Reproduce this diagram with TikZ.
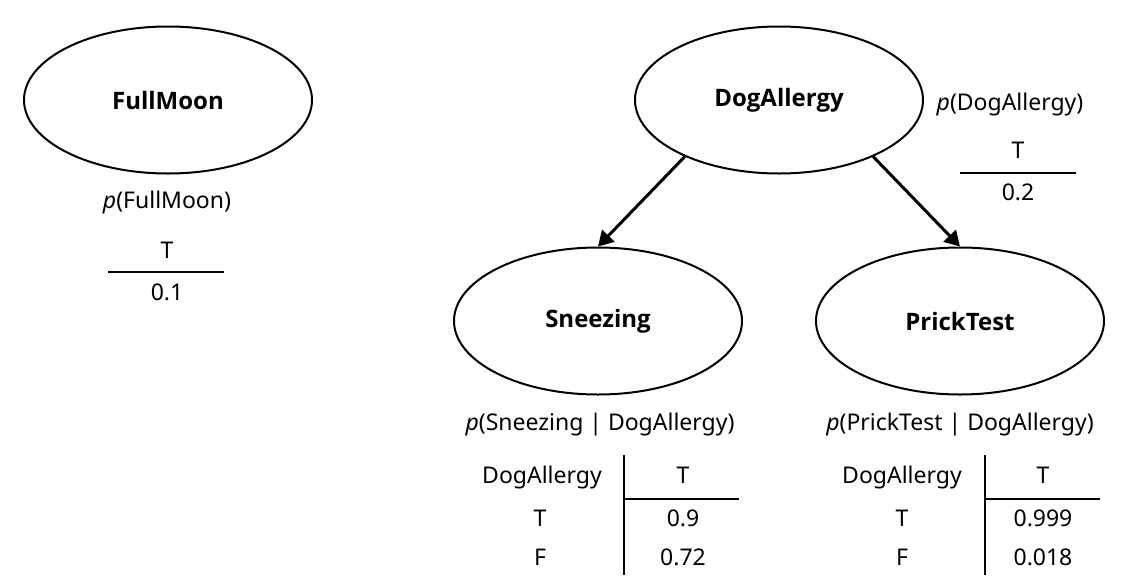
\documentclass[tikz,border=0pt]{standalone}
\usepackage{fontspec}
\setmainfont{Noto Sans}
\newfontfamily\varfont{Open Sans}
\usetikzlibrary{shapes.geometric,arrows.meta}
\begin{document}
\begin{tikzpicture}[x=1pt,y=-1pt,
  var/.style={ellipse,draw,line width=2pt,minimum width=288pt,minimum height=147pt,inner sep=0pt,font=\fontsize{24}{28}\varfont\bfseries},
  txt/.style={inner sep=0pt,anchor=center,text height=17pt,text depth=5pt,font=\fontsize{23}{28}\selectfont},
  rule/.style={line width=2pt},
  arr/.style={line width=3pt,-{Triangle[length=15pt,width=17pt]}}]
\useasboundingbox (0,0) rectangle (1144,584);
% variables
\node[var] (fm) at (168,100) {FullMoon};
\node[var] (da) at (779,100) {DogAllergy};
\node[var] (sn) at (598,321) {Sneezing};
\node[var] (pt) at (960,321) {PrickTest};
% edges
\draw[arr] (da.211) -- (sn.north);
\draw[arr] (da.329) -- (pt.north);
% FullMoon table
\node[txt] (pfm) at (167,202) {\textit{p}(FullMoon)};
\node[txt] (fmT) at (167,252) {T};
\coordinate (fmL) at (108,272);
\coordinate (fmR) at (224,272);
\draw[rule] (fmL) -- (fmR);
\node[txt] (fmV) at (167,294) {0.1};
% DogAllergy table
\node[txt] (pda) at (1010,104) {\textit{p}(DogAllergy)};
\node[txt] (daT) at (1018,152) {T};
\coordinate (daL) at (960,173);
\coordinate (daR) at (1076,173);
\draw[rule] (daL) -- (daR);
\node[txt] (daV) at (1018,194) {0.2};
% Sneezing table
\node[txt] (psn) at (600,424) {\textit{p}(Sneezing | DogAllergy)};
\node[txt] (snH) at (542,477) {DogAllergy};
\node[txt] (snHT) at (683,477) {T};
\coordinate (snVt) at (624,455);
\coordinate (snVb) at (624,575);
\coordinate (snHr) at (739,499);
\coordinate (snHl) at (624,499);
\draw[rule] (snVt) -- (snVb);
\draw[rule] (snHl) -- (snHr);
\node[txt] (snT) at (540,520) {T};
\node[txt] (snF) at (540,559) {F};
\node[txt] (snTv) at (683,520) {0.9};
\node[txt] (snFv) at (683,559) {0.72};
% PrickTest table
\node[txt] (ppt) at (960,424) {\textit{p}(PrickTest | DogAllergy)};
\node[txt] (ptH) at (902,477) {DogAllergy};
\node[txt] (ptHT) at (1043,477) {T};
\coordinate (ptVt) at (985,455);
\coordinate (ptVb) at (985,575);
\coordinate (ptHl) at (985,499);
\coordinate (ptHr) at (1100,499);
\draw[rule] (ptVt) -- (ptVb);
\draw[rule] (ptHl) -- (ptHr);
\node[txt] (ptT) at (902,520) {T};
\node[txt] (ptF) at (902,559) {F};
\node[txt] (ptTv) at (1043,520) {0.999};
\node[txt] (ptFv) at (1043,559) {0.018};
\end{tikzpicture}
\end{document}
